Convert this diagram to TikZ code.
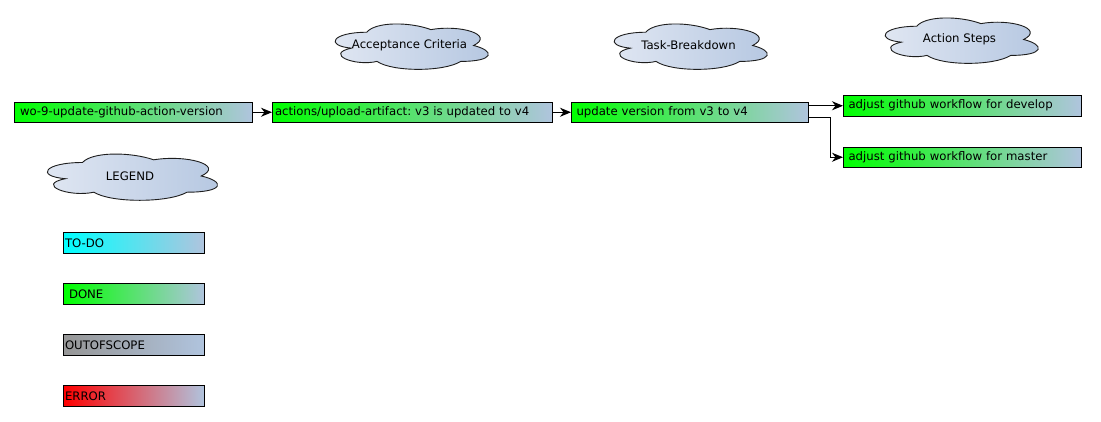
\documentclass[tikz,border=0pt]{standalone}
\usepackage{fontspec}
\setmainfont{DejaVu Sans}
\usetikzlibrary{arrows.meta}
\frenchspacing
\definecolor{lsb}{RGB}{176,196,222}
\definecolor{cloudL}{RGB}{226,232,243}
\definecolor{cloudR}{RGB}{181,199,225}
\definecolor{doneC}{RGB}{0,255,0}
\definecolor{todoC}{RGB}{0,255,255}
\definecolor{oosC}{RGB}{150,150,150}
\definecolor{errC}{RGB}{255,0,0}
\definecolor{cloudline}{RGB}{30,30,30}
\tikzset{
  lbl/.style={font=\fontsize{11.7}{13}\selectfont},
  gbox/.style={draw=black, line width=1pt, rectangle, anchor=north west,
    inner ysep=0pt, minimum height=20.5pt, align=left, lbl,
    shading=axis, left color=doneC, right color=lsb, shading angle=90},
  todobox/.style={gbox, left color=todoC, right color=lsb},
  oosbox/.style={gbox, left color=oosC, right color=lsb},
  errbox/.style={gbox, left color=errC, right color=lsb},
  cloudfill/.style={draw=cloudline, line width=0.9pt, left color=cloudL, right color=cloudR},
  cloudtext/.style={lbl, inner sep=0pt},
  arr/.style={draw=black, line width=1pt, -{Stealth[length=11pt,width=9pt,inset=3.5pt]}}
}
\newcommand{\drawcloud}[6]{%
  \begin{scope}[shift={(#1,#2)}, x=#3pt, y=-#4pt]
    \path[cloudfill] (0.25,0.25) .. controls (0.05,0.25) and (0,0.5) .. (0.16,0.55)
      .. controls (0,0.66) and (0.18,0.9) .. (0.31,0.8)
      .. controls (0.4,1) and (0.7,1) .. (0.8,0.8)
      .. controls (1,0.8) and (1,0.6) .. (0.875,0.5)
      .. controls (1,0.3) and (0.8,0.1) .. (0.625,0.2)
      .. controls (0.5,0.05) and (0.3,0.05) .. (0.25,0.25) -- cycle;
    \node[cloudtext] (#5) at (0.5,0.5) {#6};
  \end{scope}}
\begin{document}
\begin{tikzpicture}[x=1pt, y=-1pt]
\useasboundingbox[fill=white] (0,0) rectangle (1101,421);

% clouds
\drawcloud{324}{19}{171}{53}{ac}{Acceptance Criteria}
\drawcloud{603}{19}{171}{53}{tb}{Task-Breakdown}
\drawcloud{874}{13}{171}{53}{as}{Action Steps}
\drawcloud{35}{149}{190}{54}{lg}{LEGEND}

% main boxes
\node[gbox, inner xsep=5.5pt, text width=227pt] (wo) at (14,101.5) {wo-9-update-github-action-version};
\node[gbox, inner xsep=2.5pt, text width=275pt] (act) at (272,101.5) {actions/upload-artifact: v3 is updated to v4};
\node[gbox, inner xsep=5pt, text width=227pt] (upd) at (571,101.5) {update version from v3 to v4};
\node[gbox, inner xsep=5pt, text width=228pt] (dev) at (843,95) {adjust github workflow for develop};
\node[gbox, inner xsep=5pt, text width=228pt] (mas) at (843,146.5) {adjust github workflow for master};

% legend boxes
\node[todobox, inner xsep=1.5pt, text width=138pt] (todo) at (63,232) {TO-DO};
\node[gbox, inner xsep=5.5pt, text width=130pt] (done) at (63,283) {DONE};
\node[oosbox, inner xsep=1.5pt, text width=138pt] (oos) at (63,334) {OUTOFSCOPE};
\node[errbox, inner xsep=1.5pt, text width=138pt] (err) at (63,385) {ERROR};

% connectors
\draw[arr] (wo.east) -- (act.west);
\draw[arr] (act.east) -- (upd.west);
\draw[arr] (upd.east |- dev.west) -- (dev.west);
\draw[arr] ([yshift=-5pt]upd.east) -- ++(21,0) |- (mas.west);
\end{tikzpicture}
\end{document}
